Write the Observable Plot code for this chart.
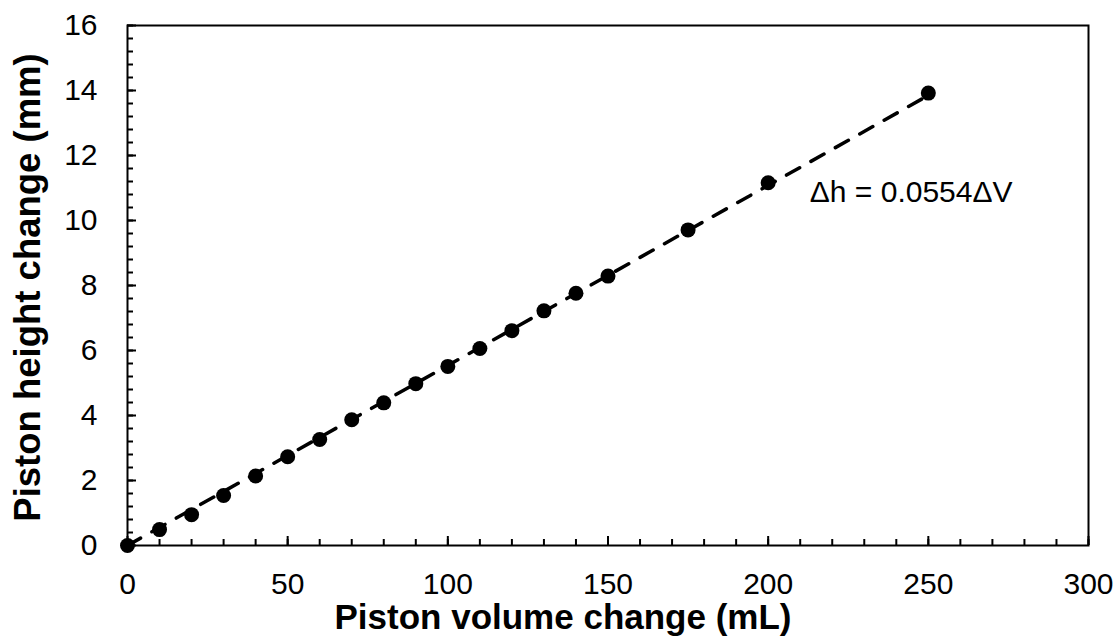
<!DOCTYPE html>
<html>
<head>
<meta charset="utf-8">
<script src="https://cdn.jsdelivr.net/npm/d3@7"></script>
<script src="https://cdn.jsdelivr.net/npm/@observablehq/plot@0.6"></script>
<style>
  html, body { margin: 0; padding: 0; background: #fff; }
  #chart { width: 1120px; height: 638px; }
</style>
</head>
<body>
<div id="chart"></div>
<script>
// ---- data ----
const volumeChange = [0, 10, 20, 30, 40, 50, 60, 70, 80, 90, 100, 110, 120, 130, 140, 150, 175, 200, 250];
const heightChange = [0, 0.49, 0.95, 1.54, 2.14, 2.73, 3.26, 3.87, 4.39, 4.98, 5.51, 6.06, 6.61, 7.22, 7.76, 8.29, 9.71, 11.16, 13.92];
const fitSlope = 0.0554;
const fitRange = [0, 250];
const xTicks = [0, 50, 100, 150, 200, 250, 300];
const yTicks = [0, 2, 4, 6, 8, 10, 12, 14, 16];
const xLabel = "Piston volume change (mL)";
const yLabel = "Piston height change (mm)";
const annotation = "Δh = 0.0554ΔV";
const annotationAt = {x: 213, y: 10.85};

// ---- derived tables ----
const points = volumeChange.map((v, i) => ({v, h: heightChange[i]}));
const fitLine = fitRange.map(v => ({v, h: fitSlope * v}));
const xMinor = d3.range(0, 301, 10);
const yMinor = d3.range(0, 16.01, 0.4).map(d => +d.toFixed(1));

const font = "'Liberation Sans', Arial, Helvetica, sans-serif";

const chart = Plot.plot({
  width: 1120,
  height: 638,
  marginLeft: 127,
  marginRight: 32,
  marginTop: 25,
  marginBottom: 93,
  style: {fontFamily: font, fontSize: "30px", color: "black", background: "white"},
  x: {domain: [0, 300]},
  y: {domain: [0, 16]},
  marks: [
    Plot.axisX(xMinor, {tickSize: -6, tickFormat: () => "", stroke: "black", strokeWidth: 2, label: null}),
    Plot.axisY(yMinor, {tickSize: -6, tickFormat: () => "", stroke: "black", strokeWidth: 2, label: null}),
    Plot.axisX(xTicks, {tickSize: -9, tickPadding: 36, stroke: "black", strokeWidth: 2, fill: "black", fontSize: 30, label: null}),
    Plot.axisY(yTicks, {tickSize: -9, tickPadding: 39, stroke: "black", strokeWidth: 2, fill: "black", fontSize: 30, label: null}),
    Plot.frame({stroke: "black", strokeWidth: 2}),
    Plot.line(fitLine, {x: "v", y: "h", stroke: "black", strokeWidth: 3.5, strokeDasharray: "15,13"}),
    Plot.dot(points, {x: "v", y: "h", r: 7.5, fill: "black", stroke: "none"}),
    Plot.text([annotation], {x: annotationAt.x, y: annotationAt.y, text: d => d, textAnchor: "start", lineAnchor: "middle", fontSize: 30, fill: "black"}),
    Plot.text([xLabel], {frameAnchor: "bottom", text: d => d, textAnchor: "middle", lineAnchor: "middle", dy: 72, dx: -45, fontSize: 35, fontWeight: "bold", fill: "black"}),
    Plot.text([yLabel], {frameAnchor: "left", text: d => d, rotate: -90, textAnchor: "middle", lineAnchor: "middle", dx: -99.5, dy: 2, fontSize: 36.5, fontWeight: "bold", fill: "black"})
  ]
});
document.getElementById("chart").appendChild(chart);
</script>
</body>
</html>
